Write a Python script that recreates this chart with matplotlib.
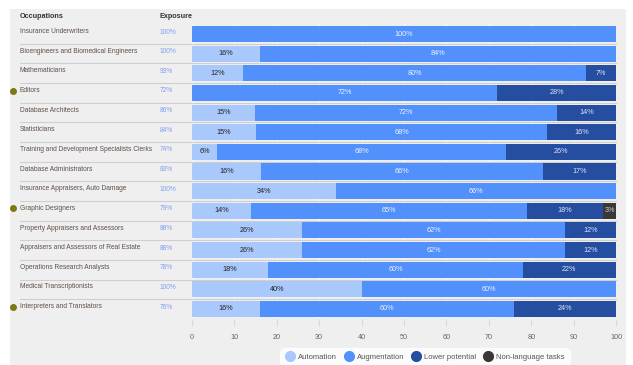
import matplotlib
matplotlib.use("Agg")
import matplotlib.pyplot as plt
from matplotlib.patches import Rectangle
from matplotlib.lines import Line2D
from matplotlib.transforms import blended_transform_factory
import numpy as np

plt.rcParams["font.family"] = ["Liberation Sans", "DejaVu Sans"]

occupations = [
    "Insurance Underwriters",
    "Bioengineers and Biomedical Engineers",
    "Mathematicians",
    "Editors",
    "Database Architects",
    "Statisticians",
    "Training and Development Specialists Clerks",
    "Database Administrators",
    "Insurance Appraisers, Auto Damage",
    "Graphic Designers",
    "Property Appraisers and Assessors",
    "Appraisers and Assessors of Real Estate",
    "Operations Research Analysts",
    "Medical Transcriptionists",
    "Interpreters and Translators",
]
exposure = [100, 100, 93, 72, 86, 84, 74, 83, 100, 79, 88, 88, 78, 100, 76]
automation = [0, 16, 12, 0, 15, 15, 6, 16, 34, 14, 26, 26, 18, 40, 16]
augmentation = [100, 84, 80, 72, 72, 68, 68, 66, 66, 65, 62, 62, 60, 60, 60]
lower_potential = [0, 0, 7, 28, 14, 16, 26, 17, 0, 18, 12, 12, 22, 0, 24]
non_language = [0, 0, 0, 0, 0, 0, 0, 0, 0, 3, 0, 0, 0, 0, 0]
highlighted = ["Editors", "Graphic Designers", "Interpreters and Translators"]

series_names = ["Automation", "Augmentation", "Lower potential", "Non-language tasks"]
series_vals = [automation, augmentation, lower_potential, non_language]
colors = ["#a9c8fc", "#5291fb", "#254da0", "#3a3735"]
label_colors = ["#222222", "#eef3ff", "#dfe6f6", "#cfcfcf"]

W, H = 633, 365
fig = plt.figure(figsize=(W / 100, H / 100), dpi=100, facecolor="white")
fig.patches.append(Rectangle((10 / W, 0), (626 - 10) / W, (365 - 9) / H,
                             transform=fig.transFigure, facecolor="#efefef",
                             edgecolor="none", zorder=-10))

top_px, bot_px = 24.2, 318.8
ax = fig.add_axes([192 / W, 1 - bot_px / H, (616 - 192) / W, (bot_px - top_px) / H])
ax.set_facecolor("none")
n = len(occupations)
y = np.arange(n)
ax.set_xlim(0, 100)
ax.set_ylim(n - 0.5, -0.5)

for xv in range(0, 101, 10):
    ax.axvline(xv, color="#f9f9f9", lw=0.9, zorder=0)

data = np.array(series_vals, dtype=float)
row_tot = data.sum(axis=0)
scaled = data / row_tot * 100.0  # rows in the reference fill the full 0-100 width

left = np.zeros(n)
for k, (name, c, lc) in enumerate(zip(series_names, colors, label_colors)):
    vals = scaled[k]
    ax.barh(y, vals, left=left, height=0.82, color=c, edgecolor="none", zorder=2)
    for i, v in enumerate(vals):
        if v > 0:
            ax.text(left[i] + v / 2, y[i], f"{int(data[k][i])}%", ha="center",
                    va="center", fontsize=5.2, color=lc, zorder=3)
    left += vals

for s in ax.spines.values():
    s.set_visible(False)
ax.set_yticks([])
ax.set_xticks(range(0, 101, 10))
ax.tick_params(axis="x", length=5, width=0.8, color="#dadada", pad=6,
               labelsize=5.2, labelcolor="#666666")

trans = blended_transform_factory(fig.transFigure, ax.transData)
for b in np.arange(0.5, n - 0.5, 1.0):
    ax.plot([20 / W, 616 / W], [b, b], transform=trans, color="#cfcfcf",
            lw=0.8, clip_on=False, zorder=1)

for i, occ in enumerate(occupations):
    ax.text(20 / W, y[i] - 0.12, occ, transform=trans, ha="left", va="center",
            fontsize=4.8, color="#5e5048")
    ax.text(160 / W, y[i] - 0.1, f"{exposure[i]}%", transform=trans, ha="left",
            va="center", fontsize=4.8, color="#819ff0")
    if occ in highlighted:
        ax.plot([13 / W], [y[i] - 0.12], transform=trans, marker="o", ms=4,
                color="#7d7a12", clip_on=False)

fig.text(20 / W, 1 - 16 / H, "Occupations", fontsize=5.2, color="#333333",
         fontweight="bold", ha="left", va="center")
fig.text(160 / W, 1 - 16 / H, "Exposure", fontsize=5.2, color="#333333",
         fontweight="bold", ha="left", va="center")

handles = [Line2D([], [], marker="o", ls="", ms=7, color=c) for c in colors]
leg = fig.legend(handles, series_names, loc="center", ncol=4,
                 bbox_to_anchor=(425 / W, 1 - 357 / H), fontsize=5.5,
                 frameon=True, facecolor="white", edgecolor="white",
                 handletextpad=0.5, columnspacing=1.0, borderpad=0.5,
                 handlelength=1.1, labelcolor="#555555")
leg.get_frame().set_boxstyle("round,pad=0.2,rounding_size=0.8")

fig.savefig("out.png", dpi=100, facecolor="white")
